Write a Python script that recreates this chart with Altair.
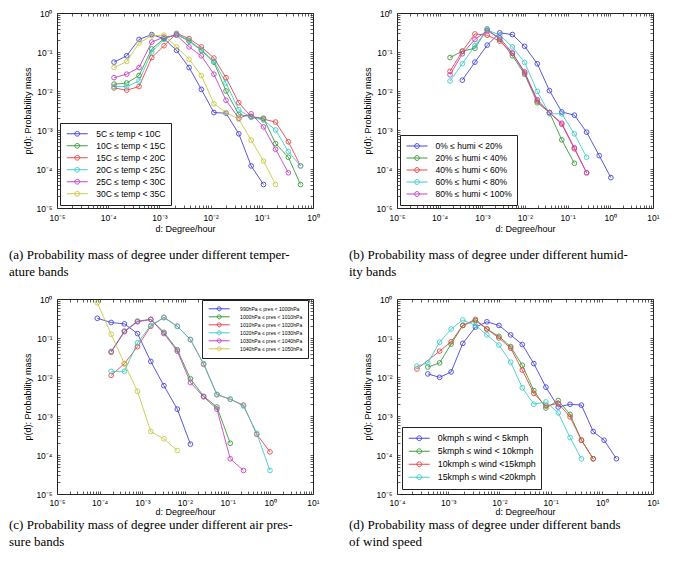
import altair as alt
import pandas as pd

SANS = "Liberation Sans"
SERIF = "Liberation Serif"

COLORS6 = ["#4646dc", "#3c9c3c", "#e84848", "#40cccc", "#c444c4", "#caca46"]

# ---------------- (a) temperature bands ----------------
XA = [1.3e-4, 2.3e-4, 4.0e-4, 7.1e-4, 1.23e-3, 2.16e-3, 3.8e-3, 6.6e-3,
      1.16e-2, 2.0e-2, 3.55e-2, 6.2e-2, 0.108, 0.186, 0.33, 0.57]
TEMP_LABELS = ["5C ≤ temp < 10C", "10C ≤ temp < 15C", "15C ≤ temp < 20C",
               "20C ≤ temp < 25C", "25C ≤ temp < 30C", "30C ≤ temp < 35C"]
TEMP_05_10 = [0.055, 0.08, 0.21, 0.28, 0.22, 0.11, 0.04, 0.011, 0.0028, 0.0027, 0.0008, 0.00012, 0.00004]
TEMP_10_15 = [0.015, 0.016, 0.025, 0.12, 0.22, 0.28, 0.19, 0.11, 0.055, 0.01, 0.0025, 0.0022, 0.002, 0.00045, 0.0002, 0.00004]
TEMP_15_20 = [0.012, 0.0105, 0.013, 0.072, 0.145, 0.3, 0.22, 0.135, 0.07, 0.022, 0.005, 0.0022, 0.0019, 0.0016, 0.0005, 0.00012]
TEMP_20_25 = [0.013, 0.013, 0.018, 0.1, 0.21, 0.29, 0.2, 0.115, 0.058, 0.016, 0.0033, 0.0021, 0.0018, 0.001, 0.00028, 0.00012]
TEMP_25_30 = [0.022, 0.027, 0.04, 0.18, 0.24, 0.27, 0.135, 0.08, 0.027, 0.0058, 0.002, 0.0026, 0.0012, 0.00032, 0.00008]
TEMP_30_35 = [0.04, 0.057, 0.17, 0.26, 0.27, 0.135, 0.065, 0.025, 0.0047, 0.0028, 0.0019, 0.00055, 0.00016, 0.00004]

# ---------------- (b) humidity bands ----------------
XB = [1.75e-4, 3.4e-4, 6.7e-4, 1.3e-3, 2.56e-3, 5.06e-3, 9.8e-3, 0.0194,
      0.0375, 0.0727, 0.1436, 0.278, 0.55, 1.03]
HUMI_LABELS = ["0% ≤ humi < 20%", "20% ≤ humi < 40%", "40% ≤ humi < 60%",
               "60% ≤ humi < 80%", "80% ≤ humi < 100%"]
HUMI_00_20 = [None, 0.019, 0.055, 0.15, 0.31, 0.28, 0.14, 0.05, 0.0102, 0.0029, 0.0024, 0.00088, 0.00022, 0.00006]
HUMI_20_40 = [0.072, 0.105, 0.125, 0.39, 0.21, 0.08, 0.027, 0.005, 0.0028, 0.00056, 0.00014]
HUMI_40_60 = [0.032, 0.105, 0.29, 0.27, 0.19, 0.092, 0.031, 0.0055, 0.0028, 0.0014, 0.00033, 0.00008]
HUMI_60_80 = [0.018, 0.05, 0.145, 0.37, 0.27, 0.135, 0.054, 0.0098, 0.0026, 0.0026, 0.0008, 0.0002]
HUMI_80_100 = [0.026, 0.09, 0.21, 0.35, 0.23, 0.095, 0.029, 0.006, 0.0028, 0.0015, 0.00035, 0.00008]

# ---------------- (c) air pressure bands ----------------
XC = [8.8e-5, 1.86e-4, 3.8e-4, 7.7e-4, 1.58e-3, 3.2e-3, 6.6e-3, 0.0134,
      0.0274, 0.056, 0.115, 0.235, 0.48, 0.98]
PRES_LABELS = ["990hPa ≤ pres < 1000hPa", "1000hPa ≤ pres < 1010hPa",
               "1010hPa ≤ pres < 1020hPa", "1020hPa ≤ pres < 1030hPa",
               "1030hPa ≤ pres < 1040hPa", "1040hPa ≤ pres < 1050hPa"]
PRES_0990 = [0.32, 0.25, 0.23, 0.13, 0.025, 0.006, 0.0015, 0.00019]
PRES_1000 = [None, 0.045, 0.15, 0.27, 0.3, 0.14, 0.05, 0.009, 0.0032, 0.0017, 0.0002]
PRES_1010 = [None, 0.011, 0.022, 0.06, 0.2, 0.34, 0.2, 0.092, 0.021, 0.0035, 0.0027, 0.0019, 0.00034, 0.00012]
PRES_1020 = [None, 0.014, 0.014, 0.075, 0.21, 0.33, 0.2, 0.09, 0.022, 0.0036, 0.0027, 0.0018, 0.00036, 0.00004]
PRES_1030 = [None, 0.043, 0.145, 0.26, 0.3, 0.13, 0.046, 0.0072, 0.0031, 0.0015, 0.00008, 0.00004]
PRES_1040 = [0.8, 0.125, 0.022, 0.0043, 0.0004, 0.00026, 0.00013]

# ---------------- (d) wind speed bands ----------------
XD = [2.45e-4, 4.0e-4, 6.8e-4, 1.14e-3, 1.93e-3, 3.4e-3, 5.7e-3, 9.8e-3, 0.0166,
      0.028, 0.047, 0.081, 0.141, 0.24, 0.40, 0.68, 1.11, 1.93]
WIND_LABELS = ["0kmph ≤ wind < 5kmph", "5kmph ≤ wind < 10kmph",
               "10kmph ≤ wind <15kmph", "15kmph ≤ wind <20kmph"]
WIND_00_05 = [None, 0.012, 0.0098, 0.0135, 0.073, 0.19, 0.26, 0.21, 0.12, 0.068, 0.022, 0.0055, 0.0017, 0.002, 0.0019, 0.0004, 0.00024, 0.00008]
WIND_05_10 = [None, 0.018, 0.023, 0.07, 0.21, 0.28, 0.17, 0.11, 0.06, 0.02, 0.0045, 0.0016, 0.0025, 0.0011, 0.00024, 0.00008]
WIND_10_15 = [0.016, None, 0.046, 0.08, 0.21, 0.3, 0.17, 0.1, 0.055, 0.015, 0.0038, 0.0018, 0.0021, 0.00095, 0.00024, 0.00008]
WIND_15_20 = [0.019, 0.023, 0.078, 0.17, 0.29, 0.21, 0.12, 0.066, 0.024, 0.0053, 0.002, 0.0023, 0.0012, 0.00028, 0.00008]

CAPTIONS = {
    "a": ["(a) Probability mass of degree under different temper-", "ature bands"],
    "b": ["(b) Probability mass of degree under different humid-", "ity bands"],
    "c": ["(c) Probability mass of degree under different air pres-", "sure bands"],
    "d": ["(d) Probability mass of degree under different bands", "of wind speed"],
}

SUP = {-5: "⁻⁵", -4: "⁻⁴", -3: "⁻³", -2: "⁻²", -1: "⁻¹", 0: "⁰", 1: "¹"}


def make_df(xs, labels, series):
    rows = []
    for lab, ys in zip(labels, series):
        for x, y in zip(xs, ys):
            if y is not None:
                rows.append({"x": x, "y": y, "series": lab})
    return pd.DataFrame(rows)


def tick_values(lo, hi):
    vals = []
    for e in range(lo, hi):
        for m in range(1, 10):
            vals.append(m * 10.0 ** e)
    vals.append(10.0 ** hi)
    return vals


def label_expr(lo, hi):
    e = "round(log(datum.value)/LN10)"
    expr = "''"
    for k in range(hi, lo - 1, -1):
        expr = f"{e} == {k} ? '10{SUP[k]}' : ({expr})"
    return f"abs(log(datum.value)/LN10 - {e}) < 0.001 ? ({expr}) : ''"


COMMON_AX = dict(offset=-3, tickSize=3, tickColor="#333333", tickWidth=0.8,
                 domain=False, grid=False)


def legend_symbol(half, r):
    # line from -half..half with a hollow circle of radius r (unit coordinates)
    return (f"M-{half},0L{half},0M{r},0A{r},{r},0,1,1,-{r},0A{r},{r},0,1,1,{r},0")


def panel(df, labels, colors, xlo, xhi, cap, cap_offset, legend_kw, lab_size,
          row_size, line_w, circ_r, x_lab_pad, x_title_pad):
    xs = alt.Scale(type="log", domain=[10.0 ** xlo, 10.0 ** xhi], nice=False)
    ys = alt.Scale(type="log", domain=[1e-5, 1.0], nice=False)
    xv = tick_values(xlo, xhi)
    yv = tick_values(-5, 0)
    unit = row_size / 2.0
    half = round(line_w / 2.0 / unit, 3)
    rad = round(circ_r / unit, 3)
    legend = alt.Legend(
        title=None, strokeColor="#222222", fillColor="white", padding=5,
        cornerRadius=0, labelFont=SANS, labelFontSize=lab_size, labelColor="black",
        symbolType=legend_symbol(half, rad), symbolSize=row_size ** 2, symbolStrokeWidth=1,
        symbolFillColor="transparent", symbolOffset=line_w / 2.0 - row_size / 2.0 + 1,
        labelOffset=line_w - row_size + 3, rowPadding=0, clipHeight=row_size,
        symbolOpacity=1, **legend_kw)
    color = alt.Color("series:N", sort=labels,
                      scale=alt.Scale(domain=labels, range=colors), legend=legend)
    base = alt.Chart(df)
    lines = base.mark_line(strokeWidth=1, opacity=0.9).encode(
        x=alt.X("x:Q", scale=xs, axis=alt.Axis(
            orient="bottom", values=xv, labelExpr=label_expr(xlo, xhi),
            labelFlush=False, labelOverlap=False, labelPadding=x_lab_pad,
            labelFont=SANS, labelFontSize=8.5, labelColor="black",
            title="d: Degree/hour", titleFont=SANS, titleFontSize=9,
            titleFontWeight="normal", titleColor="black", titlePadding=x_title_pad,
            **COMMON_AX)),
        y=alt.Y("y:Q", scale=ys, axis=alt.Axis(
            orient="left", values=yv, labelExpr=label_expr(-5, 0),
            labelFlush=False, labelOverlap=False, labelPadding=5,
            labelFont=SANS, labelFontSize=8.5, labelColor="black",
            title="p(d): Probability mass", titleFont=SANS, titleFontSize=9,
            titleFontWeight="normal", titleColor="black", titlePadding=3,
            **COMMON_AX)),
        color=color,
        order="x:Q",
    )
    pts = base.mark_point(shape="circle", filled=False, size=22, strokeWidth=1, opacity=0.9).encode(
        x=alt.X("x:Q", scale=xs, axis=alt.Axis(orient="top", values=xv, labels=False,
                                                 title=None, **COMMON_AX)),
        y=alt.Y("y:Q", scale=ys, axis=alt.Axis(orient="right", values=yv, labels=False,
                                                 title=None, **COMMON_AX)),
        color=color,
    )
    return alt.layer(lines, pts).resolve_axis(x="independent", y="independent").properties(
        width=256, height=195,
        title=alt.TitleParams(text=cap, orient="bottom", anchor="start", frame="group",
                              dx=-48, offset=cap_offset, font=SERIF, fontSize=13,
                              fontWeight="normal", color="black", lineHeight=17,
                              baseline="top"),
    )


df_a = make_df(XA, TEMP_LABELS, [TEMP_05_10, TEMP_10_15, TEMP_15_20, TEMP_20_25, TEMP_25_30, TEMP_30_35])
df_b = make_df(XB, HUMI_LABELS, [HUMI_00_20, HUMI_20_40, HUMI_40_60, HUMI_60_80, HUMI_80_100])
df_c = make_df(XC, PRES_LABELS, [PRES_0990, PRES_1000, PRES_1010, PRES_1020, PRES_1030, PRES_1040])
df_d = make_df(XD, WIND_LABELS, [WIND_00_05, WIND_05_10, WIND_10_15, WIND_15_20])

pa = panel(df_a, TEMP_LABELS, COLORS6, -5, 0, CAPTIONS["a"], 15,
           dict(orient="bottom-left", offset=3), 8.5, 11.5, 21, 2.4, 5, 3)
pb = panel(df_b, HUMI_LABELS, COLORS6[:5], -5, 1, CAPTIONS["b"], 15,
           dict(orient="bottom-left", offset=3), 8.5, 12, 21, 2.4, 5, 3)
pc = panel(df_c, PRES_LABELS, COLORS6, -5, 1, CAPTIONS["c"], 2,
           dict(orient="none", legendX=145, legendY=1), 5.1, 7.6, 21, 2.0, 4, 1)
pd_ = panel(df_d, WIND_LABELS, COLORS6[:4], -4, 1, CAPTIONS["d"], 2,
            dict(orient="bottom-left", offset=5), 8.8, 12.5, 21, 2.4, 4, 1)

chart = alt.concat(pa, pb, pc, pd_, columns=2, spacing={"row": 91, "column": 84},
                   bounds="flush").resolve_scale(color="independent").properties(
    padding=0, background="white").configure_view(stroke="#222222", strokeWidth=1)

chart.save("out.html", embed_options={"renderer": "svg", "actions": False})
